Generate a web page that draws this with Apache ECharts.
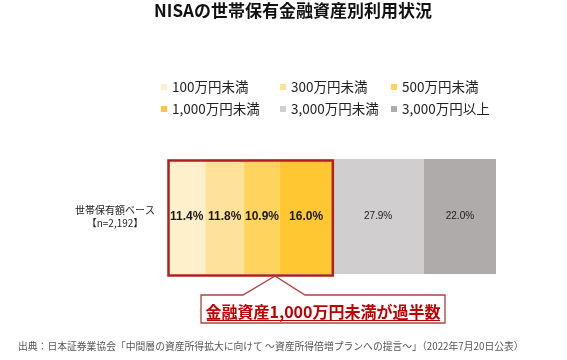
<!DOCTYPE html>
<html><head><meta charset="utf-8">
<script src="https://cdn.jsdelivr.net/npm/echarts@6/dist/echarts.min.js"></script>
<style>html,body{margin:0;padding:0;background:#fff}#c{width:567px;height:360px}</style>
</head><body><div id="c"></div>
<script>
var categories = ['世帯保有額ベース\n【n=2,192】'];
var seriesNames = ['100万円未満','300万円未満','500万円未満','1,000万円未満','3,000万円未満','3,000万円以上'];
var values = [11.4, 11.8, 10.9, 16.0, 27.9, 22.0];
var colors = ['#FFF0CC','#FFE299','#FFD45E','#FFC832','#D0CECE','#AFABAB'];
var highlightCount = 4; // first four segments = under 10 million yen
var FONT = '"Noto Sans CJK JP", "Noto Sans", sans-serif';
var NUMFONT = '"Liberation Sans", Arial, sans-serif';

var chart = echarts.init(document.getElementById('c'), null, {renderer:'canvas'});
var GRID = {left:168, right:71, top:159, bottom:86};

var series = seriesNames.map(function(n,i){
  var big = i < highlightCount;
  return {
    name:n, type:'bar', stack:'total', barCategoryGap:'0%', barWidth:'100%',
    data:[values[i]],
    itemStyle:{color:colors[i]},
    label:{show:true, position:'inside', formatter:function(p){return p.value.toFixed(1)+'%';},
      color:'#1a1a1a', fontFamily:NUMFONT, fontSize: big?12:10, fontWeight: big?'bold':'normal'}
  };
});

function legendCol(names, left){
  return {data:names, orient:'vertical', left:left, top:80, padding:0, itemGap:8,
    itemWidth:6, itemHeight:6, icon:'rect',
    textStyle:{fontFamily:FONT, fontSize:13.5, color:'#222', lineHeight:14}, selectedMode:false};
}

chart.setOption({
  animation:false,
  title:{text:'NISAの世帯保有金融資産別利用状況', left:288, top:-3, textAlign:'center',
    textStyle:{fontFamily:FONT, fontSize:17, fontWeight:'bold', color:'#111'}},
  legend:[
    legendCol([seriesNames[0], seriesNames[3]], 161),
    legendCol([seriesNames[1], seriesNames[4]], 280),
    legendCol([seriesNames[2], seriesNames[5]], 391)
  ],
  grid:GRID,
  xAxis:{type:'value', min:0, max:100, show:false},
  yAxis:{type:'category', data:categories, axisLine:{show:false}, axisTick:{show:false},
    axisLabel:{align:'center', margin:53, fontFamily:FONT, fontSize:10, lineHeight:13, color:'#222'}},
  series:series
});

// highlight box around the first four segments, from the axis scale
var sum = 0; for (var i=0;i<highlightCount;i++) sum += values[i];
var x0 = chart.convertToPixel({xAxisIndex:0}, 0);
var x1 = chart.convertToPixel({xAxisIndex:0}, sum);
var yTop = GRID.top, yBot = 360 - GRID.bottom;
var tipX = 275, boxL = 201, boxR = 445, boxT = 295, boxB = 323;

chart.setOption({graphic:[
  {type:'rect', shape:{x:x0+0.5, y:yTop+1.5, width:x1-x0, height:yBot-yTop}, z:100,
    style:{fill:null, stroke:'#B0201E', lineWidth:2.5}},
  {type:'polygon', z:100, shape:{points:[[boxL,boxT],[243,boxT],[tipX,yBot+2],[305,boxT],[boxR,boxT],[boxR,boxB],[boxL,boxB]]},
    style:{fill:'#fff', stroke:'#B0403C', lineWidth:1.3}},
  {type:'text', z:101, x:(boxL+boxR)/2, y:312, style:{text:'金融資産1,000万円未満が過半数', fill:'#C00000',
    font:'bold 16px '+FONT, textAlign:'center', textVerticalAlign:'middle'}},
  {type:'line', z:101, shape:{x1:207, y1:320.5, x2:440, y2:320.5}, style:{stroke:'#C00000', lineWidth:1}},
  {type:'text', z:101, x:18, y:346, style:{text:'出典：日本証券業協会「中間層の資産所得拡大に向けて ～資産所得倍増プランへの提言～」（2022年7月20日公表）',
    fill:'#555', font:'9.8px '+FONT, textVerticalAlign:'middle'}}
]});
</script></body></html>
